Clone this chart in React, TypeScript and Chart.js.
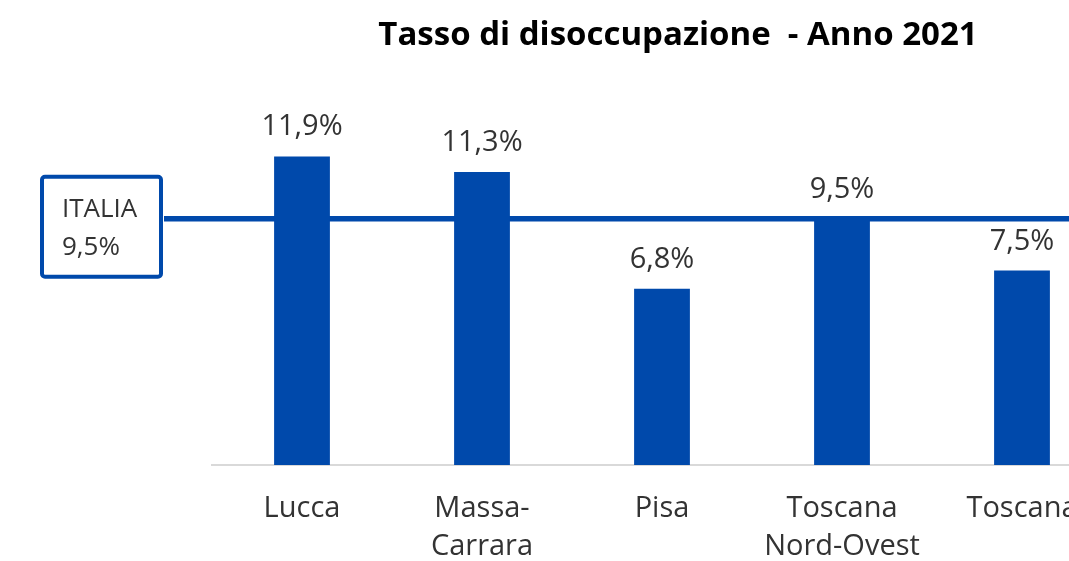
import React, { useEffect, useRef } from "react";
import { Chart, registerables } from "chart.js";

Chart.register(...registerables);

const categories: (string | string[])[] = ["Lucca", ["Massa-", "Carrara"], "Pisa", ["Toscana", "Nord-Ovest"], "Toscana"];
const rates: number[] = [11.9, 11.3, 6.8, 9.5, 7.5];
const italiaRate = 9.5;
const italiaLabel = "ITALIA";
const titleText = "Tasso di disoccupazione  - Anno 2021";

const BLUE = "#0049ab";
const FONT = "'Open Sans', 'Liberation Sans', sans-serif";

const fmt = (v: number) => v.toFixed(1).replace(".", ",") + "%";

const overlay = {
  id: "overlay",
  beforeDatasetsDraw(chart: any) {
    const { ctx, scales } = chart;
    const y = scales.y.getPixelForValue(italiaRate);
    ctx.save();
    // title
    ctx.fillStyle = "#000000";
    ctx.font = `bold 33px ${FONT}`;
    ctx.textAlign = "center";
    ctx.textBaseline = "alphabetic";
    ctx.fillText(titleText, 678, 45);
    // reference line
    ctx.strokeStyle = BLUE;
    ctx.lineWidth = 5.5;
    ctx.beginPath();
    ctx.moveTo(164, y);
    ctx.lineTo(chart.width, y);
    ctx.stroke();
    // box
    const bx = 42, by = y - 42, bw = 119, bh = 100;
    ctx.lineWidth = 4;
    ctx.fillStyle = "#ffffff";
    ctx.beginPath();
    (ctx as any).roundRect(bx, by, bw, bh, 3);
    ctx.fill();
    ctx.stroke();
    ctx.fillStyle = "#333333";
    ctx.font = `26px ${FONT}`;
    ctx.textAlign = "left";
    ctx.fillText(italiaLabel, 62, y - 1.5);
    ctx.fillText(fmt(italiaRate), 62, y + 36);
    ctx.restore();
  },
  afterDatasetsDraw(chart: any) {
    const { ctx } = chart;
    const meta = chart.getDatasetMeta(0);
    ctx.save();
    ctx.fillStyle = "#333333";
    ctx.font = `29px ${FONT}`;
    ctx.textAlign = "center";
    ctx.textBaseline = "alphabetic";
    meta.data.forEach((bar: any, i: number) => {
      ctx.fillText(fmt(rates[i]), bar.x, bar.y - 21);
    });
    ctx.restore();
  },
};

export default function App() {
  const ref = useRef<HTMLCanvasElement>(null);
  useEffect(() => {
    document.body.style.margin = "0";
    const chart = new Chart(ref.current!, {
      type: "bar",
      data: {
        labels: categories,
        datasets: [
          {
            data: rates,
            backgroundColor: BLUE,
            barPercentage: 0.31,
            categoryPercentage: 1,
          },
        ],
      },
      options: {
        responsive: false,
        animation: false,
        devicePixelRatio: 1,
        layout: { padding: { left: 212, right: 244, top: 102, bottom: 0 } },
        plugins: {
          legend: { display: false },
          tooltip: { enabled: false },
          title: { display: false },
        },
        scales: {
          x: {
            grid: { display: false, drawTicks: false },
            border: { display: true, color: "#d9d9d9", width: 2 },
            afterFit(scale: any) {
              scale.height = 96;
            },
            ticks: {
              color: "#333333",
              font: { family: FONT, size: 29, lineHeight: 1.3 },
              padding: 25,
              maxRotation: 0,
              autoSkip: false,
            },
          },
          y: {
            display: false,
            min: 0,
            max: 14,
          },
        },
      },
      plugins: [overlay],
    });
    return () => chart.destroy();
  }, []);
  return (
    <div style={{ position: "fixed", left: 0, top: 0, width: 1069, height: 561, overflow: "hidden", background: "#fff" }}>
      <canvas ref={ref} width={1356} height={561} style={{ width: 1356, height: 561, display: "block" }} />
    </div>
  );
}
